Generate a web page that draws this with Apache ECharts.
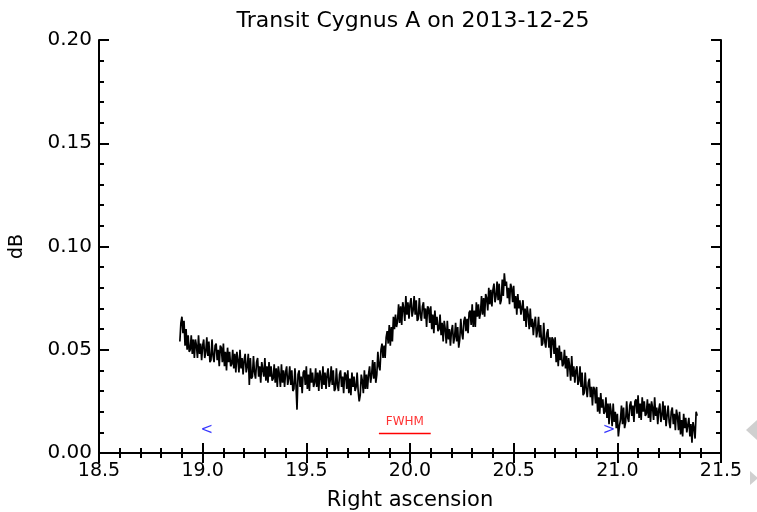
<!DOCTYPE html>
<html><head><meta charset="utf-8">
<script src="https://cdn.jsdelivr.net/npm/echarts@6/dist/echarts.min.js"></script>
<style>html,body{margin:0;padding:0;background:#fff}#c{width:757px;height:512px}</style>
</head><body><div id="c"></div>
<script>
// Sampling grid of the transit record (right ascension, hours)
const raStart = 18.89;
const raStep = 0.005;
// Signal, dB
const dbValues = [
0.054,0.063,0.066,0.058,0.064,0.052,0.060,0.050,0.057,0.049,
0.050,0.057,0.048,0.055,0.046,0.055,0.052,0.046,0.057,0.048,
0.053,0.045,0.052,0.055,0.046,0.049,0.056,0.047,0.054,0.044,
0.045,0.055,0.047,0.044,0.052,0.053,0.045,0.050,0.042,0.052,
0.051,0.044,0.053,0.042,0.049,0.040,0.051,0.044,0.049,0.042,
0.043,0.050,0.041,0.048,0.039,0.049,0.045,0.039,0.050,0.041,
0.046,0.038,0.045,0.048,0.039,0.042,0.048,0.033,0.046,0.036,
0.037,0.047,0.039,0.036,0.044,0.046,0.037,0.042,0.034,0.044,
0.044,0.037,0.046,0.035,0.042,0.034,0.044,0.037,0.042,0.035,
0.036,0.043,0.034,0.041,0.032,0.042,0.038,0.032,0.043,0.034,
0.040,0.032,0.039,0.042,0.033,0.036,0.042,0.033,0.040,0.030,
0.031,0.041,0.033,0.021,0.038,0.040,0.032,0.037,0.029,0.039,
0.040,0.033,0.042,0.031,0.038,0.030,0.041,0.034,0.039,0.032,
0.034,0.041,0.032,0.039,0.030,0.040,0.037,0.031,0.042,0.033,
0.039,0.031,0.038,0.041,0.032,0.035,0.042,0.033,0.040,0.030,
0.031,0.041,0.033,0.030,0.038,0.040,0.032,0.037,0.029,0.039,
0.038,0.031,0.040,0.029,0.036,0.028,0.039,0.032,0.037,0.030,
0.032,0.039,0.030,0.025,0.028,0.038,0.035,0.029,0.040,0.031,
0.038,0.031,0.038,0.042,0.034,0.038,0.045,0.036,0.044,0.034,
0.038,0.049,0.042,0.040,0.050,0.053,0.046,0.052,0.046,0.056,
0.059,0.053,0.062,0.052,0.061,0.054,0.066,0.060,0.067,0.061,
0.064,0.072,0.063,0.071,0.062,0.073,0.070,0.064,0.076,0.067,
0.073,0.065,0.072,0.075,0.066,0.069,0.076,0.067,0.074,0.064,
0.065,0.075,0.067,0.064,0.071,0.073,0.065,0.070,0.061,0.071,
0.070,0.063,0.071,0.060,0.067,0.058,0.069,0.062,0.066,0.059,
0.060,0.067,0.057,0.063,0.054,0.064,0.060,0.053,0.064,0.055,
0.060,0.052,0.059,0.062,0.053,0.056,0.063,0.054,0.061,0.051,
0.055,0.065,0.058,0.055,0.064,0.066,0.059,0.065,0.058,0.068,
0.069,0.062,0.072,0.061,0.069,0.061,0.073,0.066,0.072,0.065,
0.068,0.076,0.067,0.075,0.066,0.077,0.075,0.069,0.080,0.072,
0.079,0.071,0.079,0.082,0.073,0.076,0.083,0.074,0.082,0.072,
0.074,0.084,0.076,0.087,0.081,0.083,0.075,0.080,0.072,0.082,
0.080,0.073,0.081,0.070,0.076,0.067,0.077,0.070,0.074,0.067,
0.067,0.074,0.064,0.070,0.061,0.071,0.067,0.060,0.070,0.061,
0.065,0.057,0.063,0.066,0.056,0.059,0.066,0.056,0.062,0.052,
0.053,0.063,0.054,0.051,0.058,0.060,0.051,0.056,0.046,0.056,
0.055,0.048,0.056,0.044,0.051,0.042,0.052,0.045,0.049,0.042,
0.043,0.050,0.041,0.047,0.037,0.046,0.042,0.035,0.047,0.037,
0.042,0.034,0.040,0.042,0.033,0.035,0.042,0.032,0.039,0.028,
0.029,0.039,0.031,0.027,0.034,0.036,0.027,0.032,0.023,0.032,
0.031,0.024,0.032,0.020,0.027,0.019,0.029,0.022,0.026,0.019,
0.020,0.027,0.017,0.024,0.014,0.024,0.020,0.013,0.024,0.015,
0.020,0.012,0.019,0.008,0.013,0.016,0.023,0.014,0.022,0.012,
0.015,0.025,0.017,0.015,0.023,0.025,0.018,0.023,0.015,0.025,
0.026,0.019,0.028,0.017,0.024,0.016,0.027,0.020,0.025,0.018,
0.019,0.026,0.017,0.024,0.015,0.025,0.022,0.016,0.027,0.018,
0.022,0.014,0.021,0.024,0.015,0.018,0.025,0.016,0.023,0.013,
0.013,0.023,0.015,0.012,0.020,0.022,0.014,0.019,0.011,0.021,
0.018,0.011,0.020,0.009,0.016,0.008,0.019,0.012,0.017,0.010,
0.010,0.017,0.008,0.014,0.005,0.015,0.012,0.007,0.020,0.018
];
// Half-power markers
const markerRA = [19.02, 20.96];
const markerDB = [0.011, 0.011];
const markerText = ['<', '>'];
// FWHM bar
const fwhmRA = [19.85, 20.10];
const fwhmDB = [0.0094, 0.0094];
const fwhmLabelRA = 19.975;
const fwhmLabelDB = 0.0150;
// Axis ticks
const xTicks = { min: 18.5, max: 21.5, interval: 0.5 };
const yTicks = { min: 0, max: 0.2, interval: 0.05 };

const FONT = 'DejaVu Sans';
const signal = dbValues.map((v, i) => [+(raStart + i * raStep).toFixed(4), v]);

const baseAxis = {
  axisLine: { show: true, lineStyle: { color: '#000', width: 2 } },
  axisTick: { show: true, inside: true, length: 10, lineStyle: { color: '#000', width: 2 } },
  minorTick: { show: true, splitNumber: 5, length: 5, lineStyle: { color: '#000', width: 2 } },
  splitLine: { show: false },
  minorSplitLine: { show: false }
};

const chart = echarts.init(document.getElementById('c'), null, { renderer: 'canvas' });
chart.setOption({
  animation: false,
  backgroundColor: '#fff',
  title: {
    text: 'Transit Cygnus A on 2013-12-25',
    left: 408, top: 5, textAlign: 'center',
    textStyle: { fontFamily: FONT, fontSize: 22, fontWeight: 'normal', color: '#000' }
  },
  grid: { left: 99, right: 36, top: 40, bottom: 59, containLabel: false, outerBoundsMode: 'none' },
  xAxis: [
    Object.assign({}, baseAxis, {
      type: 'value', position: 'bottom', min: xTicks.min, max: xTicks.max, interval: xTicks.interval,
      name: 'Right ascension', nameLocation: 'middle', nameGap: 37,
      nameTextStyle: { fontFamily: FONT, fontSize: 21, color: '#000' },
      axisLabel: { fontFamily: FONT, fontSize: 19, color: '#000', margin: 9, formatter: v => v.toFixed(1) }
    }),
    Object.assign({}, baseAxis, {
      type: 'value', position: 'top', min: xTicks.min, max: xTicks.max, interval: xTicks.interval,
      axisLabel: { show: false }
    })
  ],
  yAxis: [
    Object.assign({}, baseAxis, {
      type: 'value', position: 'left', min: yTicks.min, max: yTicks.max, interval: yTicks.interval,
      name: 'dB', nameLocation: 'middle', nameGap: 72, nameRotate: 90,
      nameTextStyle: { fontFamily: FONT, fontSize: 19, color: '#000' },
      axisLabel: { fontFamily: FONT, fontSize: 20, color: '#000', margin: 7, formatter: v => v.toFixed(2) }
    }),
    Object.assign({}, baseAxis, {
      type: 'value', position: 'right', min: yTicks.min, max: yTicks.max, interval: yTicks.interval,
      axisLabel: { show: false }
    })
  ],
  series: [
    {
      type: 'line', data: signal, xAxisIndex: 0, yAxisIndex: 0,
      showSymbol: false, symbol: 'none', silent: true,
      lineStyle: { color: '#000', width: 1.7 }
    },
    {
      type: 'line', data: fwhmRA.map((r, i) => [r, fwhmDB[i]]), xAxisIndex: 0, yAxisIndex: 0,
      symbol: 'none', lineStyle: { color: '#ff0000', width: 1.5 }
    },
    {
      type: 'scatter', data: [[fwhmLabelRA, fwhmLabelDB]], xAxisIndex: 0, yAxisIndex: 0,
      symbolSize: 0,
      label: { show: true, position: 'inside', formatter: 'FWHM', fontFamily: FONT, fontSize: 12, color: '#ff0000' }
    },
    {
      type: 'scatter', data: markerRA.map((r, i) => ({ value: [r, markerDB[i]], name: markerText[i] })),
      xAxisIndex: 0, yAxisIndex: 0, symbolSize: 0,
      label: { show: true, position: 'inside', formatter: p => p.name, fontFamily: FONT, fontSize: 15, color: '#0000ff' }
    }
  ],
  graphic: [
    { type: 'polygon', shape: { points: [[757, 420], [757, 440], [746, 430]] }, style: { fill: '#cfcfcf' } },
    { type: 'polygon', shape: { points: [[750, 471], [750, 485], [758, 478]] }, style: { fill: '#cfcfcf' } }
  ]
});
</script></body></html>
